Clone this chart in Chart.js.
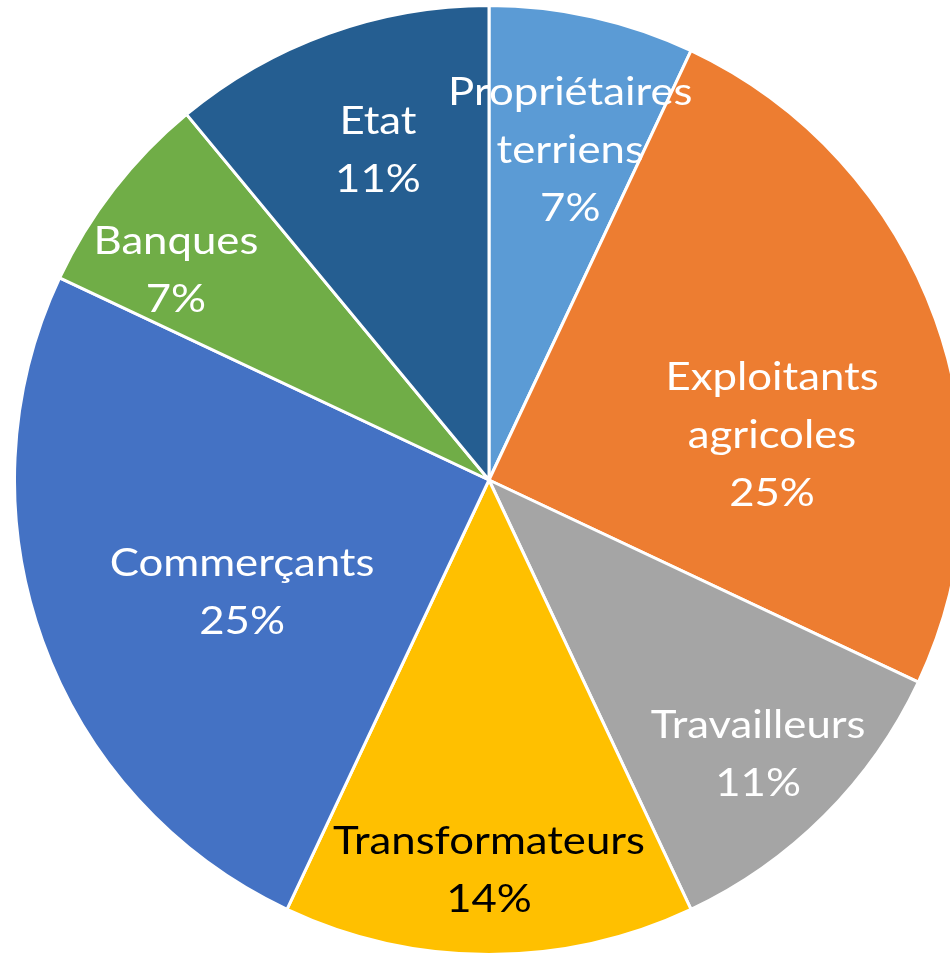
<!DOCTYPE html>
<html>
<head>
<meta charset="utf-8">
<script src="https://cdn.jsdelivr.net/npm/chart.js@4.4.0/dist/chart.umd.min.js"></script>
<style>
  html, body { margin: 0; padding: 0; background: #ffffff; width: 950px; height: 954px; overflow: hidden; }
  #wrap { position: absolute; left: 13px; top: 4px; width: 952px; height: 952px; }
</style>
</head>
<body>
<div id="wrap"><canvas id="c" width="952" height="952"></canvas></div>
<script>
// ---- data ----
const categories = ["Propriétaires terriens", "Exploitants agricoles", "Travailleurs", "Transformateurs", "Commerçants", "Banques", "Etat"];
const labelLines = [["Propriétaires", "terriens"], ["Exploitants", "agricoles"], ["Travailleurs"], ["Transformateurs"], ["Commerçants"], ["Banques"], ["Etat"]];
const values = [7, 25, 11, 14, 25, 7, 11];

// ---- styles ----
const colors = ["#5B9BD5", "#ED7D31", "#A5A5A5", "#FFC000", "#4472C4", "#70AD47", "#255E91"];
const textColors = ["#ffffff", "#ffffff", "#ffffff", "#000000", "#ffffff", "#ffffff", "#ffffff"];
const labelRadius = [0.718, 0.604, 0.809, 0.82, 0.571, 0.795, 0.734];
const labelAngleShift = [1.2, 10.7, 0.5, 0, -4.5, -3.9, 1.2];
const FONT = '38px Lato, "Noto Sans", sans-serif';
const LINE_H = 58;
const X_SCALE = 1.15;
const CAP_HALF = 13.5;

const labelPlugin = {
  id: 'sliceLabels',
  afterDatasetsDraw(chart) {
    const ctx = chart.ctx;
    const meta = chart.getDatasetMeta(0);
    const total = values.reduce((a, b) => a + b, 0);
    ctx.save();
    ctx.font = FONT;
    ctx.textAlign = 'center';
    ctx.textBaseline = 'alphabetic';
    meta.data.forEach((arc, i) => {
      const p = arc.getProps(['x', 'y', 'startAngle', 'endAngle', 'outerRadius'], true);
      const mid = (p.startAngle + p.endAngle) / 2 + labelAngleShift[i] * Math.PI / 180;
      const r = p.outerRadius * labelRadius[i];
      const cx = p.x + Math.cos(mid) * r;
      const cy = p.y + Math.sin(mid) * r;
      const lines = labelLines[i].concat([Math.round(values[i] / total * 100) + '%']);
      const y0 = cy - (lines.length - 1) * LINE_H / 2;
      ctx.fillStyle = textColors[i];
      lines.forEach((t, k) => {
        ctx.save();
        ctx.translate(cx, y0 + k * LINE_H + CAP_HALF);
        ctx.scale(X_SCALE, 1);
        ctx.fillText(t, 0, 0);
        ctx.restore();
      });
    });
    ctx.restore();
  }
};

new Chart(document.getElementById('c'), {
  type: 'pie',
  data: {
    labels: categories,
    datasets: [{
      data: values,
      backgroundColor: colors,
      borderColor: '#ffffff',
      borderWidth: 3
    }]
  },
  options: {
    responsive: false,
    animation: false,
    layout: { padding: 0 },
    plugins: { legend: { display: false }, tooltip: { enabled: false } }
  },
  plugins: [labelPlugin]
});
</script>
</body>
</html>
